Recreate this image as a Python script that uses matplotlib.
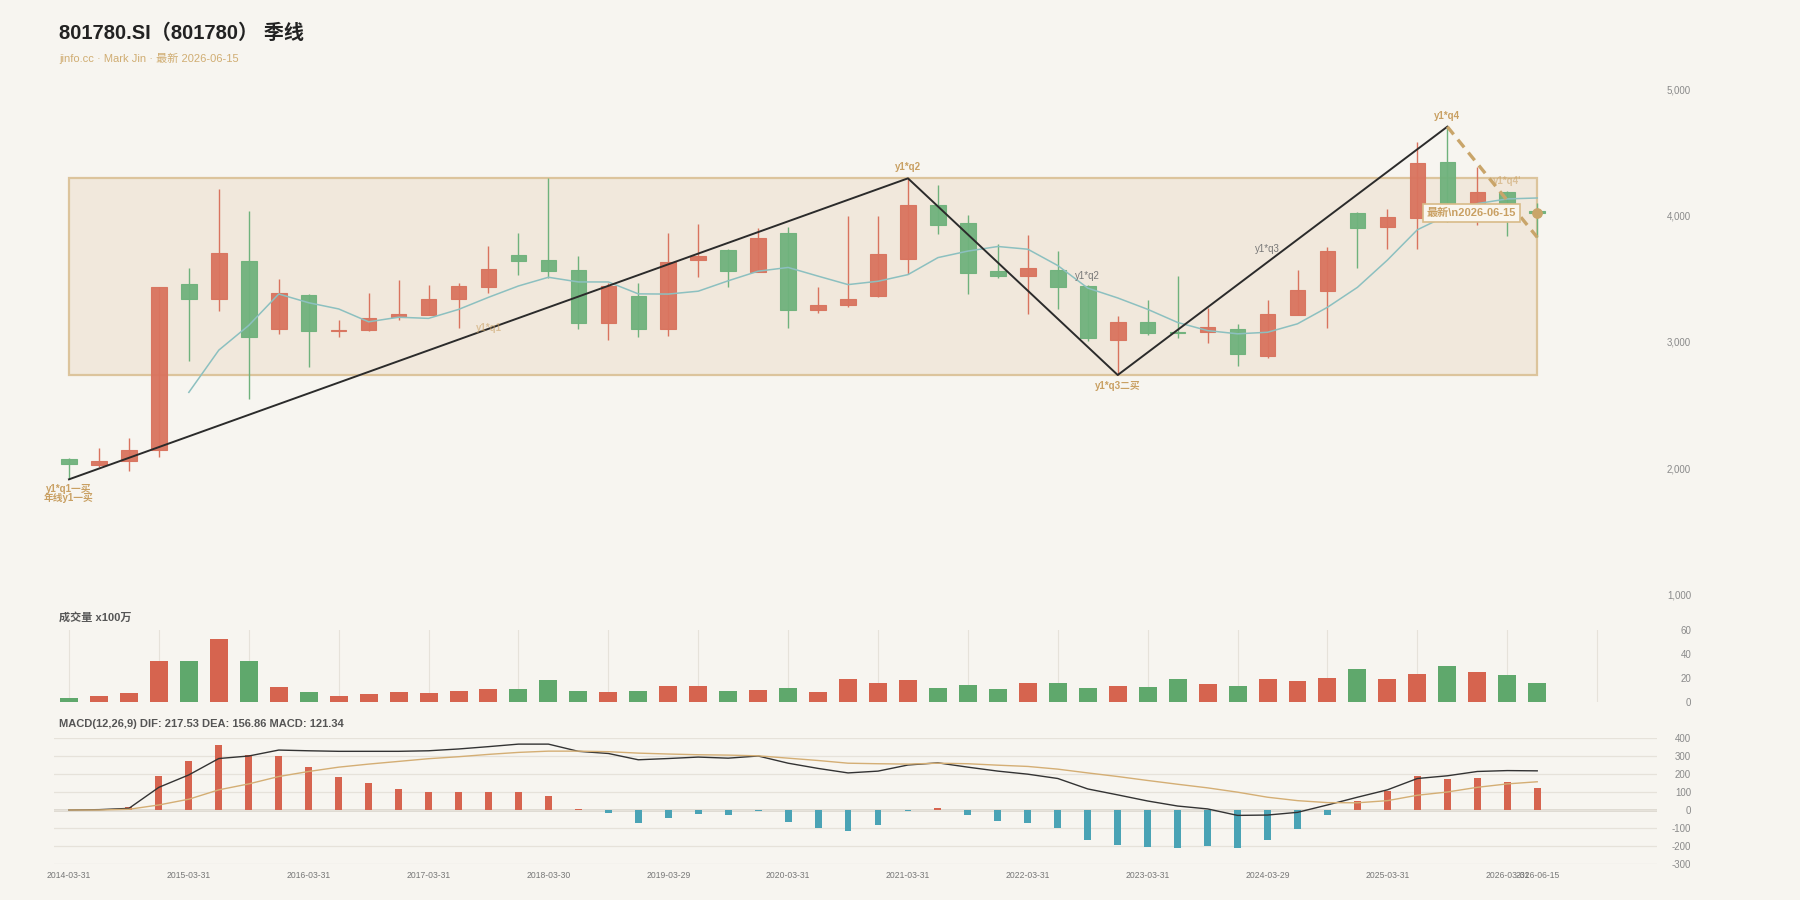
import numpy as np
import matplotlib.pyplot as plt
from matplotlib.patches import Rectangle

plt.rcParams['font.family'] = ['Liberation Sans', 'Noto Sans CJK SC']
plt.rcParams['axes.unicode_minus'] = False

# quarterly OHLC, 2014Q1 .. 2026Q2 (50 bars)
opens = [2074, 2024, 2058, 2140, 3458, 3339, 3640, 3103, 3373, 3087,
         3095, 3196, 3217, 3339, 3434, 3688, 3651, 3569, 3148, 3362,
         3103, 3648, 3730, 3558, 3865, 3254, 3291, 3365, 3661, 4090,
         3947, 3561, 3526, 3569, 3447, 3016, 3156, 3079, 3077, 3103,
         2886, 3217, 3402, 4026, 3915, 3981, 4431, 3990, 4193, 4042]
closes = [2029, 2055, 2140, 3434, 3344, 3704, 3037, 3386, 3087, 3098,
          3193, 3220, 3339, 3442, 3579, 3643, 3566, 3153, 3442, 3106,
          3635, 3680, 3566, 3823, 3254, 3291, 3344, 3698, 4087, 3929,
          3550, 3526, 3590, 3439, 3034, 3159, 3074, 3069, 3116, 2907,
          3220, 3410, 3725, 3907, 3989, 4423, 3985, 4188, 4093, 4026]
highs = [2080, 2156, 2238, 3439, 3590, 4214, 4040, 3500, 3381, 3175,
         3386, 3492, 3452, 3466, 3762, 3862, 4299, 3683, 3466, 3466,
         3862, 3936, 3735, 3907, 3910, 3439, 4000, 4000, 4299, 4243,
         4005, 3775, 3849, 3725, 3452, 3206, 3333, 3524, 3267, 3143,
         3333, 3571, 3757, 4034, 4058, 4587, 4709, 4386, 4198, 4101]
lows = [1910, 2005, 1974, 2085, 2852, 3249, 2545, 3061, 2804, 3037,
        3090, 3175, 3217, 3114, 3386, 3534, 3505, 3101, 3016, 3042,
        3048, 3519, 3439, 3558, 3114, 3228, 3280, 3355, 3537, 3857,
        3378, 3505, 3222, 3265, 3008, 2738, 3053, 3034, 2995, 2812,
        2876, 3212, 3114, 3585, 3741, 3741, 3950, 3931, 3844, 3831]

# volume, x100万
volumes = [3.3, 5.0, 7.5, 34.2, 34.2, 52.5, 34.2, 12.5, 8.1, 5.0,
           6.7, 8.3, 7.5, 9.4, 11.1, 10.8, 18.3, 8.9, 8.3, 8.9,
           13.3, 13.3, 9.2, 10.3, 11.7, 8.1, 19.2, 15.8, 18.6, 11.7,
           13.9, 10.6, 15.6, 15.6, 11.7, 13.1, 12.5, 18.9, 15.0, 13.3,
           19.2, 17.8, 20.0, 27.5, 18.9, 23.3, 29.7, 25.3, 22.5, 16.1]

dif = [0, 2, 9, 126, 195, 286, 300, 333, 329, 326,
       326, 326, 329, 339, 352, 366, 366, 326, 314, 279,
       286, 294, 288, 300, 260, 231, 206, 216, 250, 262,
       238, 216, 199, 175, 117, 84, 50, 22, 6, -30,
       -28, -13, 28, 71, 112, 175, 190, 214, 219, 217.53]
dea = [0, 0, 4, 28, 60, 112, 145, 186, 214, 238,
       255, 270, 285, 296, 309, 320, 327, 327, 324, 316,
       311, 307, 305, 301, 288, 275, 260, 257, 255, 260,
       257, 249, 242, 227, 206, 186, 164, 143, 123, 99,
       71, 52, 41, 40, 52, 82, 100, 126, 145, 156.86]
macd = [0, 0, 15, 190, 275, 361, 305, 300, 238, 184,
        149, 117, 102, 102, 99, 99, 78, 4, -15, -74,
        -45, -24, -30, -6, -65, -102, -117, -82, -7, 13,
        -28, -60, -73, -99, -169, -192, -208, -212, -199, -210,
        -166, -108, -26, 52, 106, 190, 173, 179, 153, 121.34]

tick_pos = [0, 4, 8, 12, 16, 20, 24, 28, 32, 36, 40, 44, 48, 49]
tick_labels = ['2014-03-31', '2015-03-31', '2016-03-31', '2017-03-31', '2018-03-30',
               '2019-03-29', '2020-03-31', '2021-03-31', '2022-03-31', '2023-03-31',
               '2024-03-29', '2025-03-31', '2026-03-31', '2026-06-15']

# zigzag pivots
zz_x = [0, 28, 35, 46]
zz_y = [1910, 4299, 2738, 4709]
proj_x = [46, 49]
proj_y = [4709, 3831]

BG = '#f7f5f0'
RED = '#d9735e'
GREEN = '#6fb27c'
VRED = '#d6644f'
VGREEN = '#5fa86c'
TEAL = '#4aa3b5'
TAN = '#c9a063'
GRID = '#e6e2da'

n = len(closes)
x = np.arange(n)
ma5 = np.full(n, np.nan)
for i in range(4, n):
    ma5[i] = np.mean(closes[i - 4:i + 1])

fig = plt.figure(figsize=(18, 9), dpi=100, facecolor=BG)
L, W = 0.03, 0.8906
ax = fig.add_axes([L, 0.34, W, 0.56])
axv = fig.add_axes([L, 0.22, W, 0.08])
axm = fig.add_axes([L, 0.04, W, 0.14])
for a in (ax, axv, axm):
    a.set_facecolor(BG)
    a.set_xlim(-0.5, 53)
    for s in a.spines.values():
        s.set_visible(False)
    a.yaxis.tick_right()
    a.tick_params(axis='y', length=0, pad=24.5, labelsize=7, labelcolor='#8a8a8a')
    a.tick_params(axis='x', length=0)

# ---- price panel
ax.add_patch(Rectangle((0, 2738), 49, 4299 - 2738, facecolor='#f1e8dc',
                       edgecolor='#dcc49c', lw=1.6, zorder=1))
for i in range(n):
    up = closes[i] >= opens[i]
    c = RED if up else GREEN
    ax.vlines(i, lows[i], highs[i], color=c, lw=1.0, zorder=3)
    lo, hi = min(opens[i], closes[i]), max(opens[i], closes[i])
    ax.add_patch(Rectangle((i - 0.26, lo), 0.52, max(hi - lo, 8), facecolor=c,
                           edgecolor=c, lw=0.8, alpha=0.95, zorder=4))
ax.plot(x, ma5, color='#8cc0c0', lw=1.1, zorder=5)
ax.plot(zz_x, zz_y, color='#2b2b2b', lw=1.4, zorder=6)
ax.plot(proj_x, proj_y, color='#c9a56a', lw=2.4, ls=(0, (3, 2)), zorder=6)
ax.scatter([49], [closes[-1]], s=45, color='#c9a56a', zorder=8)

notes = [
    ('y1*q1一买', 0, 1833, TAN, 1.0),
    ('年线y1一买', 0, 1762, TAN, 1.0),
    ('y1*q1', 14, 3114, TAN, 0.55),
    ('y1*q2', 28, 4392, TAN, 1.0),
    ('y1*q2', 34, 3526, '#777777', 1.0),
    ('y1*q3二买', 35, 2654, TAN, 1.0),
    ('y1*q3', 40, 3735, '#777777', 1.0),
    ('y1*q4', 46, 4796, TAN, 1.0),
    ("y1*q4'", 48, 4280, TAN, 0.55),
]
for t, nx, ny, c, al in notes:
    ax.text(nx, ny, t, color=c, alpha=al, fontsize=7, ha='center', va='center',
            fontweight='bold' if c == TAN else 'normal', zorder=9)
ax.text(46.8, 4024, '最新\\n2026-06-15', color=TAN, fontsize=8, fontweight='bold',
        ha='center', va='center', zorder=10,
        bbox=dict(boxstyle='square,pad=0.35', facecolor='#faf6ee', edgecolor='#d8bb88', lw=1.2))

ax.set_ylim(1000, 5000)
ax.set_yticks([1000, 2000, 3000, 4000, 5000], ['1,000', '2,000', '3,000', '4,000', '5,000'])
ax.set_xticks([])

# ---- volume panel
vcols = [VRED if closes[i] >= opens[i] else VGREEN for i in range(n)]
axv.bar(x, volumes, width=0.6, color=vcols, zorder=3)
axv.set_ylim(0, 60)
axv.set_yticks([0, 20, 40, 60])
axv.set_xticks(np.arange(0, 54, 3))
axv.set_xticklabels([])
axv.grid(axis='x', color=GRID, lw=0.8, zorder=0)

# ---- MACD panel
mcols = [VRED if v >= 0 else TEAL for v in macd]
axm.bar(x, macd, width=0.23, color=mcols, zorder=3)
axm.plot(x, dif, color='#333333', lw=1.0, zorder=4)
axm.plot(x, dea, color='#d4ae74', lw=1.0, zorder=4)
axm.set_ylim(-300, 400)
axm.set_yticks(np.arange(-300, 401, 100))
axm.grid(axis='y', color=GRID, lw=0.9, zorder=0)
axm.axhline(0, color='#dcd8d0', lw=2.0, zorder=1)
axm.set_xticks(tick_pos, tick_labels)
axm.tick_params(axis='x', labelsize=6.2, labelcolor='#777777', pad=5)

for a in (ax, axv, axm):
    for t in a.get_yticklabels():
        t.set_horizontalalignment('right')

# ---- titles
fig.text(0.0328, 0.963, '801780.SI（801780） 季线', fontsize=14.5, fontweight='bold',
         color='#222222', va='center')
fig.text(0.0328, 0.9356, 'jinfo.cc · Mark Jin · 最新 2026-06-15', fontsize=8,
         color='#d0ad72', va='center')
fig.text(0.0328, 0.3144, '成交量 x100万', fontsize=8, fontweight='bold', color='#555555', va='center')
fig.text(0.0328, 0.1956, 'MACD(12,26,9) DIF: 217.53 DEA: 156.86 MACD: 121.34', fontsize=8,
         fontweight='bold', color='#555555', va='center')

fig.savefig('out.png', dpi=100, facecolor=BG)
